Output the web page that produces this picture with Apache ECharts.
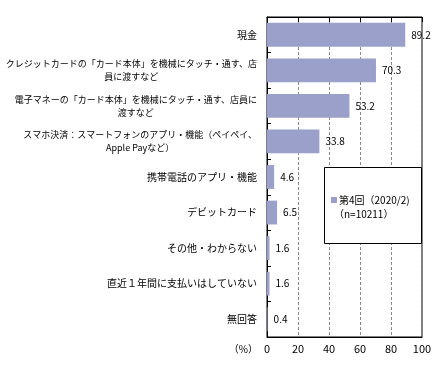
<!DOCTYPE html>
<html><head><meta charset="utf-8">
<script src="https://cdn.jsdelivr.net/npm/echarts@6/dist/echarts.min.js"></script>
<style>html,body{margin:0;padding:0;background:#fff}#c{width:440px;height:373px}</style>
</head><body><div id="c"></div>
<script>
const categories = [
  '現金',
  'クレジットカードの「カード本体」を機械にタッチ・通す、店\n員に渡すなど',
  '電子マネーの「カード本体」を機械にタッチ・通す、店員に\n渡すなど',
  'スマホ決済：スマートフォンのアプリ・機能（ペイペイ、\nApple Payなど）',
  '携帯電話のアプリ・機能',
  'デビットカード',
  'その他・わからない',
  '直近１年間に支払いはしていない',
  '無回答'
];
const values = [89.2, 70.3, 53.2, 33.8, 4.6, 6.5, 1.6, 1.6, 0.4];
const seriesName = '第4回（2020/2)';
const sampleNote = '（n=10211）';
const xTicks = [0, 20, 40, 60, 80, 100];

const FONT = '"Noto Sans CJK JP", sans-serif';
const chart = echarts.init(document.getElementById('c'), null, {renderer: 'canvas'});
chart.setOption({
  animation: false,
  textStyle: {fontFamily: FONT, color: '#000'},
  grid: {left: 267, right: 18, top: 17, bottom: 36, show: true, borderColor: '#000', borderWidth: 1, backgroundColor: 'transparent'},
  xAxis: [{
    type: 'value', min: xTicks[0], max: xTicks[xTicks.length - 1], interval: 20,
    axisLine: {show: true, lineStyle: {color: '#000'}},
    axisTick: {show: false},
    axisLabel: {fontSize: 11, color: '#000', margin: 6, fontFamily: FONT},
    splitLine: {show: true, lineStyle: {color: '#888', type: [3, 2], width: 1}}
  }, {
    type: 'value', position: 'top', min: xTicks[0], max: xTicks[xTicks.length - 1], interval: 20,
    axisLine: {show: true, lineStyle: {color: '#000'}},
    axisTick: {show: true, inside: true, length: 5, lineStyle: {color: '#000'}},
    axisLabel: {show: false},
    splitLine: {show: false}
  }],
  yAxis: {
    type: 'category', data: categories, inverse: true,
    axisLine: {show: true, lineStyle: {color: '#000'}},
    axisTick: {show: true, inside: true, length: 4, lineStyle: {color: '#000'}},
    axisLabel: {
      margin: 10, color: '#000',
      formatter: function (v) {
        const lines = v.split('\n');
        if (lines.length > 1) return lines.map(l => '{s|' + l + '}').join('\n');
        return '{n|' + v + '}';
      },
      rich: {
        s: {fontSize: 9, align: 'center', fontFamily: FONT, color: '#000', lineHeight: 13},
        n: {fontSize: 10, fontFamily: FONT, color: '#000'}
      }
    }
  },
  legend: {
    data: [seriesName], left: 331, top: 195, padding: 0, z: 6,
    itemWidth: 6, itemHeight: 6, itemGap: 2,
    icon: 'rect',
    textStyle: {fontSize: 10, fontFamily: FONT, color: '#000', padding: [0, 0, 0, -3]}
  },
  graphic: [
    {type: 'rect', z: 4, shape: {x: 324.5, y: 167.5, width: 97, height: 76},
     style: {fill: '#fff', stroke: '#000', lineWidth: 1}},
    {type: 'text', z: 6, x: 334, y: 214, style: {text: sampleNote, fontSize: 10, fontFamily: FONT, fill: '#000', verticalAlign: 'middle'}},
    {type: 'text', z: 6, x: 258, y: 349, style: {text: '（%）', fontSize: 10, fontFamily: FONT, fill: '#000', align: 'right', verticalAlign: 'middle'}}
  ],
  series: [{
    name: seriesName, type: 'bar', data: values, barCategoryGap: '33%',
    itemStyle: {color: '#9aa0ca'},
    label: {show: true, position: 'right', distance: 6, fontSize: 10, fontFamily: FONT, color: '#000',
      formatter: p => p.value.toFixed(1)}
  }]
});
</script></body></html>
